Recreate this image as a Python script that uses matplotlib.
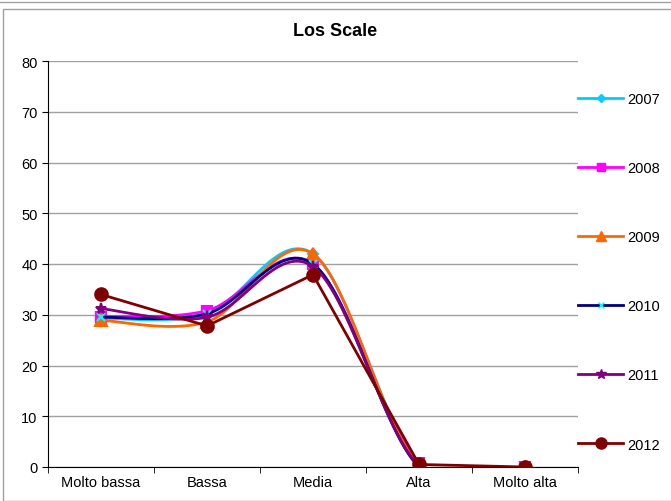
import numpy as np
import matplotlib.pyplot as plt
from matplotlib.patches import Rectangle
from matplotlib.lines import Line2D

plt.rcParams['font.family'] = ['Liberation Sans', 'DejaVu Sans']

# dati
categorie = ["Molto bassa", "Bassa", "Media", "Alta", "Molto alta"]
anni = ["2007", "2008", "2009", "2010", "2011", "2012"]
v2007 = [29.3, 30.2, 42.0, 0.5, 0.0]
v2008 = [29.6, 30.8, 40.0, 0.8, 0.0]
v2009 = [28.9, 28.6, 42.0, 0.3, 0.0]
v2010 = [29.5, 30.2, 40.0, 0.0, 0.0]
v2011 = [31.2, 29.5, 39.5, 0.2, 0.0]
v2012 = [34.0, 27.8, 37.9, 0.5, 0.0]
valori = [v2007, v2008, v2009, v2010, v2011, v2012]

colori = ["#00CCFF", "#FF00FF", "#FF6600", "#000080", "#800080", "#800000"]
mcolori = ["#00CCFF", "#FF00FF", "#FF6600", "#00FFFF", "#800080", "#800000"]
marker = ["D", "s", "^", "x", "*", "o"]
msize = [5, 7, 8, 6, 8, 9]
smooth = [True, True, True, True, True, False]


def curva(x, y, n=30):
    # linea smussata stile Excel (Catmull-Rom)
    x = np.asarray(x, float)
    y = np.asarray(y, float)
    px = np.concatenate([[x[0]], x, [x[-1]]])
    py = np.concatenate([[y[0]], y, [y[-1]]])
    xs, ys = [], []
    t = np.linspace(0, 1, n)
    for i in range(1, len(px) - 2):
        p0, p1, p2, p3 = [np.array([px[j], py[j]]) for j in (i - 1, i, i + 1, i + 2)]
        m1 = (p2 - p0) / 2
        m2 = (p3 - p1) / 2
        h00 = 2 * t**3 - 3 * t**2 + 1
        h10 = t**3 - 2 * t**2 + t
        h01 = -2 * t**3 + 3 * t**2
        h11 = t**3 - t**2
        pts = np.outer(h00, p1) + np.outer(h10, m1) + np.outer(h01, p2) + np.outer(h11, m2)
        xs.extend(pts[:, 0])
        ys.extend(pts[:, 1])
    return np.array(xs), np.array(ys)


fig = plt.figure(figsize=(6.71, 5.02), dpi=100)
fig.patches.append(Rectangle((3 / 671, 0), 1, 1 - 10 / 502, transform=fig.transFigure,
                             fill=False, edgecolor="#A0A0A0", lw=1))
fig.patches.append(Rectangle((-0.01, 1 - 3 / 502), 1.02, 0.02, transform=fig.transFigure,
                             fill=False, edgecolor="#A0A0A0", lw=1))

ax = fig.add_axes([48 / 671, 1 - 468 / 502, 530 / 671, 406 / 502])
x = np.arange(len(categorie))

handles = []
for i in range(len(anni)):
    if smooth[i]:
        sx, sy = curva(x, valori[i])
    else:
        sx, sy = x, valori[i]
    ax.plot(sx, sy, color=colori[i], lw=2, zorder=3 + i)
    ax.plot(x, valori[i], linestyle="none", marker=marker[i], color=mcolori[i],
            markersize=msize[i], markeredgewidth=1.5, zorder=3 + i)
    handles.append(Line2D([], [], color=colori[i], lw=2, marker=marker[i],
                          markerfacecolor=mcolori[i], markeredgecolor=mcolori[i],
                          markersize=msize[i] - 1))

ax.set_xlim(-0.5, 4.5)
ax.set_ylim(0, 80)
ax.set_yticks(range(0, 81, 10))
ax.set_xticks(x)
ax.set_xticklabels(categorie, fontsize=10.5)
ax.set_xticks(np.arange(-0.5, 5, 1), minor=True)
ax.tick_params(axis="x", which="major", length=0, pad=6)
ax.tick_params(axis="x", which="minor", length=4, direction="out")
ax.tick_params(axis="y", labelsize=10.5, length=4, direction="out")
ax.grid(axis="y", color="#A0A0A0", lw=1)
ax.set_axisbelow(True)
for s in ["top", "right"]:
    ax.spines[s].set_visible(False)
fig.text(335 / 671, 1 - 32 / 502, "Los Scale", fontsize=13, fontweight="bold",
         ha="center", va="center")

leg = fig.legend(handles, anni, loc="upper left", bbox_to_anchor=(575 / 671, 1 - 90 / 502),
                 frameon=False, fontsize=10.5, handlelength=3.1, labelspacing=3.78,
                 handletextpad=0.3, borderaxespad=0, borderpad=0.2)

fig.savefig("out.png", dpi=100)
